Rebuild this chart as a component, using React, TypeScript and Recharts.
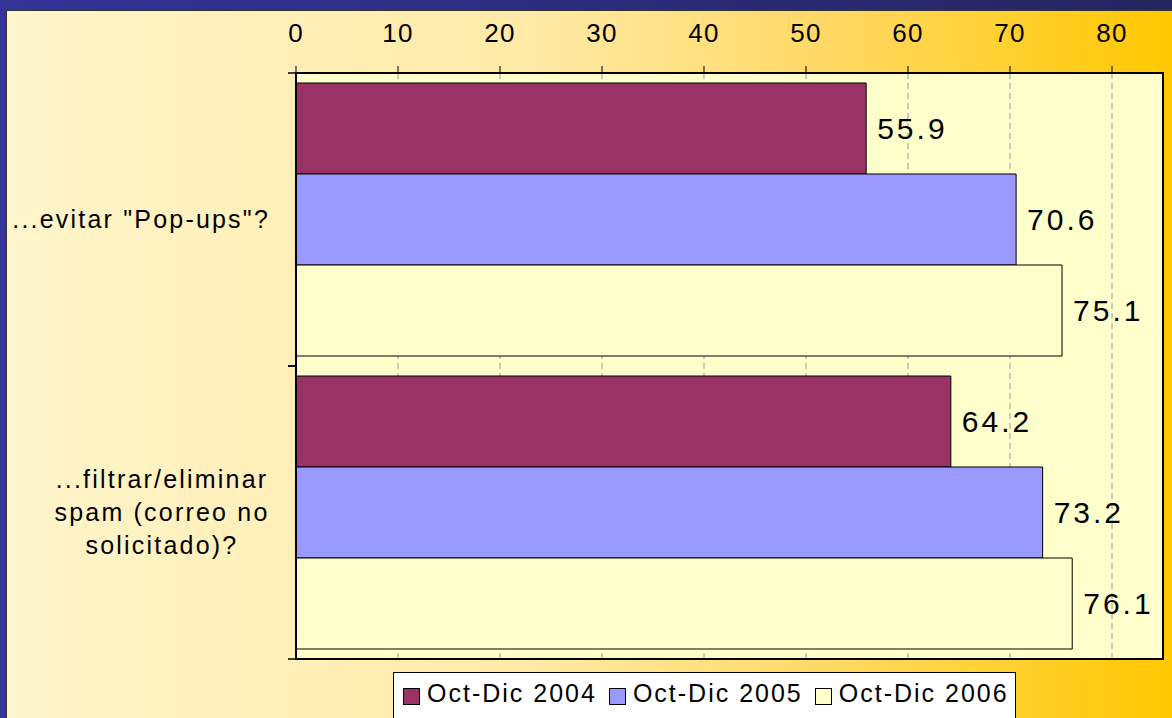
import React from 'react';
import { Bar, BarChart, CartesianGrid, LabelList, Legend, ReferenceArea, XAxis, YAxis } from 'recharts';

const categories = ['...evitar "Pop-ups"?', '...filtrar/eliminar spam (correo no solicitado)?'];
const oct2004 = [55.9, 64.2];
const oct2005 = [70.6, 73.2];
const oct2006 = [75.1, 76.1];
const seriesNames = ['Oct-Dic 2004', 'Oct-Dic 2005', 'Oct-Dic 2006'];
const seriesColors = ['#993366', '#9999FF', '#FFFFCC'];
const xTicks = [0, 10, 20, 30, 40, 50, 60, 70, 80];

const data = categories.map((name, i) => ({ name, s0: oct2004[i], s1: oct2005[i], s2: oct2006[i] }));

const FONT = '"Liberation Sans", Arial, sans-serif';

// crude word wrap, Excel-like
function wrapLabel(text: string, max = 20) {
  const lines: string[] = [];
  let cur = '';
  text.split(' ').forEach((w) => {
    const next = cur ? cur + ' ' + w : w;
    if (next.length > max && cur) {
      lines.push(cur);
      cur = w;
    } else cur = next;
  });
  if (cur) lines.push(cur);
  return lines;
}

function CategoryTick(props: any) {
  const { x, y, payload } = props;
  const half = payload.offset || 0;
  const lines = wrapLabel(String(payload.value));
  const lineHeight = 33;
  const multi = lines.length > 1;
  const tx = multi ? x - 126 : x - 18;
  const first = y + 8 - ((lines.length - 1) * lineHeight) / 2;
  return (
    <g>
      <line x1={x} x2={x + 8} y1={y - half} y2={y - half} stroke="#000" strokeWidth={1.5} />
      <line x1={x} x2={x + 8} y1={y + half} y2={y + half} stroke="#000" strokeWidth={1.5} />
      <text textAnchor={multi ? 'middle' : 'end'} fontSize={25} letterSpacing={2.2} fill="#000">
        {lines.map((l, i) => (
          <tspan key={i} x={tx} y={first + i * lineHeight}>
            {l}
          </tspan>
        ))}
      </text>
    </g>
  );
}

function ValueLabel(props: any) {
  const { x, y, width, height, value } = props;
  return (
    <text x={x + width + 11} y={y + height / 2 + 10} fontSize={30} letterSpacing={3} fill="#000">
      {Number(value).toFixed(1)}
    </text>
  );
}

function LegendBox() {
  return (
    <div
      style={{
        background: '#fff',
        border: '1px solid #000',
        height: 50,
        boxSizing: 'border-box',
        display: 'flex',
        alignItems: 'flex-start',
        paddingLeft: 9,
        paddingTop: 6,
        whiteSpace: 'nowrap',
      }}
    >
      {seriesNames.map((n, i) => (
        <div key={n} style={{ display: 'flex', alignItems: 'flex-start', marginRight: 12, flexShrink: 0 }}>
          <span
            style={{
              display: 'inline-block',
              width: 15,
              height: 15,
              background: seriesColors[i],
              border: '1px solid #000',
              marginTop: 9,
              marginRight: 7,
              flexShrink: 0,
            }}
          />
          <span style={{ fontSize: 25, letterSpacing: 2, lineHeight: '28px', color: '#000' }}>{n}</span>
        </div>
      ))}
    </div>
  );
}

export default function App() {
  return (
    <div
      style={{
        position: 'fixed',
        left: 0,
        top: 0,
        width: 1172,
        height: 718,
        overflow: 'hidden',
        fontFamily: FONT,
        background: 'linear-gradient(to right, #333399, #25255f)',
      }}
    >
      <div
        style={{
          position: 'absolute',
          left: 6,
          top: 10,
          right: -2,
          bottom: -2,
          border: '1px solid #333',
          background: 'linear-gradient(to right, #FFF5CC 0%, #FFEAA6 45%, #FFD966 70%, #FFC800 100%)',
        }}
      />
      <div style={{ position: 'absolute', left: 0, top: 0 }}>
        <BarChart
          width={1172}
          height={718}
          data={data}
          layout="vertical"
          margin={{ top: 43, right: 9, bottom: 59, left: 0 }}
          barCategoryGap={10}
          barGap={0}
          style={{ fontFamily: FONT }}
        >
          <CartesianGrid
            horizontal={false}
            stroke="#999"
            strokeDasharray="6 4"
            fill="#FFFFCC"
            fillOpacity={1}
          />
          <ReferenceArea x1={0} x2={85} fill="none" stroke="#000" strokeWidth={2} ifOverflow="visible" />
          <XAxis
            type="number"
            orientation="top"
            domain={[0, 85]}
            ticks={xTicks}
            height={30}
            tickSize={7}
            tickMargin={24}
            tickLine={{ stroke: '#000' }}
            axisLine={{ stroke: '#000', strokeWidth: 2 }}
            tick={{ fontSize: 26, fill: '#000', letterSpacing: 1.2 }}
          />
          <YAxis
            type="category"
            dataKey="name"
            width={296}
            tickSize={8}
            tickMargin={0}
            tickLine={false}
            axisLine={{ stroke: '#000', strokeWidth: 2 }}
            tick={<CategoryTick />}
            interval={0}
          />
          {['s0', 's1', 's2'].map((k, i) => (
            <Bar
              key={k}
              dataKey={k}
              name={seriesNames[i]}
              fill={seriesColors[i]}
              stroke="#000"
              strokeWidth={1}
              isAnimationActive={false}
            >
              <LabelList dataKey={k} content={<ValueLabel />} />
            </Bar>
          ))}
          <Legend
            layout="horizontal"
            verticalAlign="middle"
            align="center"
            wrapperStyle={{ left: 393, top: 672, width: 623, height: 50 }}
            content={() => <LegendBox />}
          />
        </BarChart>
      </div>
    </div>
  );
}
